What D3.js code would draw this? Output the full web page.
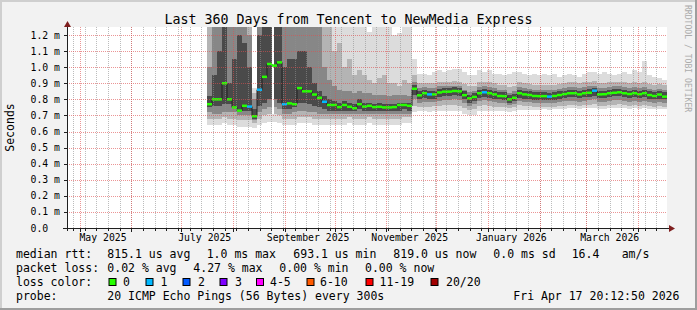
<!DOCTYPE html>
<html>
<head>
<meta charset="utf-8">
<script src="https://cdn.jsdelivr.net/npm/d3@7"></script>
<style>
html, body { margin: 0; padding: 0; background: #f2f2f2; }
svg text { font-family: "DejaVu Sans Mono", monospace; fill: #000; }
</style>
</head>
<body>
<div id="chart"></div>
<script>
// time frame: 360 days, one smoke column every 3 days
const MS_DAY = 864e5;
const startTime = Date.UTC(2025, 3, 23, 9, 0, 0);
const spanDays = 360;
const firstColDay = 84;
const colDays = 3;

// median rtt in ms, one per column
const median = [
  0.77, 0.80, 0.80, 0.90, 0.80, 0.75, 0.73, 0.76, 0.755, 0.695,
  0.86, 0.94, 1.02, 1.01, 1.03, 0.77, 0.775, 0.77, 0.87, 0.85,
  0.85, 0.83, 0.81, 0.785, 0.765, 0.765, 0.752, 0.765, 0.754, 0.745,
  0.77, 0.755, 0.76, 0.752, 0.754, 0.75, 0.75, 0.752, 0.765, 0.765,
  0.76,
  0.866, 0.825, 0.838, 0.831, 0.831, 0.843, 0.848, 0.848, 0.852, 0.85,
  0.826, 0.806, 0.815, 0.838, 0.844, 0.838, 0.831, 0.821, 0.82, 0.80,
  0.81, 0.838, 0.831, 0.827, 0.821, 0.82, 0.82, 0.817, 0.821, 0.827,
  0.833, 0.838, 0.838, 0.831, 0.838, 0.841, 0.854, 0.831, 0.832, 0.838,
  0.841, 0.844, 0.838, 0.833, 0.838, 0.832, 0.838, 0.827, 0.821, 0.83,
  0.817
];

// lost pings (of 20) per column
const loss = [
  0, 0, 0, 0, 0, 0, 0, 0, 1, 0,
  1, 0, 0, 0, 0, 1, 0, 0, 0, 0,
  0, 0, 0, 1, 0, 0, 0, 0, 0, 0,
  0, 0, 0, 0, 0, 0, 0, 0, 0, 0,
  0,
  0, 0, 0, 1, 0, 0, 0, 0, 0, 0,
  0, 0, 0, 0, 1, 0, 0, 0, 0, 0,
  0, 0, 0, 0, 0, 0, 0, 1, 0, 0,
  0, 0, 0, 0, 0, 0, 1, 0, 0, 0,
  0, 0, 0, 0, 0, 0, 0, 0, 0, 0,
  0
];

// smoke: outer band (min/max)
const outerLo = [
  0.64, 0.64, 0.64, 0.65, 0.64, 0.64, 0.63, 0.63, 0.63, 0.62,
  0.64, 0.65, 0.66, 0.66, 0.65, 0.64, 0.64, 0.64, 0.65, 0.65,
  0.65, 0.64, 0.64, 0.64, 0.64, 0.64, 0.64, 0.64, 0.65, 0.64,
  0.64, 0.64, 0.65, 0.64, 0.64, 0.64, 0.64, 0.64, 0.64, 0.65,
  0.65,
  0.72, 0.725, 0.725, 0.72, 0.725, 0.725, 0.73, 0.73, 0.73, 0.725,
  0.71, 0.70, 0.705, 0.73, 0.73, 0.73, 0.73, 0.725, 0.725, 0.72,
  0.725, 0.735, 0.735, 0.735, 0.735, 0.735, 0.74, 0.735, 0.74, 0.74,
  0.74, 0.745, 0.745, 0.74, 0.745, 0.745, 0.745, 0.74, 0.74, 0.745,
  0.745, 0.745, 0.745, 0.74, 0.745, 0.74, 0.745, 0.74, 0.74, 0.74,
  0.74
];
const outerHi = [
  1.3, 1.3, 1.3, 1.3, 1.3, 1.3, 1.3, 1.3, 1.3, 0.87,
  1.3, 1.3, 1.3, 1.3, 1.3, 1.3, 1.3, 1.3, 1.3, 1.3,
  1.3, 1.3, 1.3, 1.3, 1.3, 1.3, 1.3, 1.3, 1.3, 1.3,
  1.3, 1.3, 1.22, 1.3, 1.3, 1.3, 1.3, 1.2, 1.21, 1.3,
  1.3,
  1.05, 0.96, 0.96, 0.95, 0.97, 0.98, 0.97, 0.98, 0.99, 0.99,
  0.97, 0.95, 0.95, 0.98, 0.97, 0.98, 0.96, 0.96, 0.95, 0.96,
  0.97, 0.97, 0.96, 0.95, 0.96, 0.95, 0.96, 0.95, 0.96, 0.94,
  0.95, 0.96, 0.95, 0.94, 0.96, 0.97, 0.97, 0.96, 0.97, 0.96,
  0.95, 0.96, 0.97, 0.96, 0.98, 0.97, 1.04, 0.95, 0.94, 0.93,
  0.92
];
// second band
const band2Lo = [
  0.68, 0.68, 0.68, 0.69, 0.68, 0.68, 0.67, 0.67, 0.67, 0.65,
  0.68, 0.70, 0.71, 0.71, 0.70, 0.68, 0.68, 0.68, 0.69, 0.69,
  0.69, 0.68, 0.68, 0.68, 0.68, 0.68, 0.68, 0.68, 0.69, 0.68,
  0.68, 0.68, 0.69, 0.68, 0.68, 0.68, 0.68, 0.68, 0.68, 0.69,
  0.69,
  0.76, 0.755, 0.755, 0.755, 0.76, 0.76, 0.765, 0.765, 0.765, 0.76,
  0.745, 0.735, 0.74, 0.76, 0.765, 0.76, 0.755, 0.75, 0.75, 0.745,
  0.75, 0.765, 0.76, 0.76, 0.755, 0.755, 0.755, 0.755, 0.755, 0.76,
  0.76, 0.765, 0.765, 0.76, 0.765, 0.765, 0.77, 0.76, 0.76, 0.765,
  0.765, 0.77, 0.765, 0.76, 0.765, 0.76, 0.765, 0.76, 0.755, 0.76,
  0.755
];
const band2Hi = [
  1.3, 1.3, 1.3, 1.3, 1.3, 1.3, 1.3, 1.3, 1.3, 0.84,
  1.3, 1.3, 1.3, 1.3, 1.3, 1.3, 1.3, 1.3, 1.3, 1.3,
  1.3, 1.3, 1.3, 1.3, 1.25, 1.1, 1.15, 1.0, 1.05, 0.95,
  0.98, 0.95, 0.92, 0.90, 0.93, 0.95, 0.90, 0.90, 0.88, 0.92,
  0.90,
  0.95, 0.90, 0.90, 0.90, 0.90, 0.905, 0.91, 0.91, 0.915, 0.91,
  0.895, 0.88, 0.885, 0.905, 0.91, 0.905, 0.90, 0.89, 0.89, 0.875,
  0.885, 0.905, 0.90, 0.895, 0.89, 0.89, 0.89, 0.89, 0.89, 0.895,
  0.90, 0.905, 0.905, 0.90, 0.905, 0.91, 0.915, 0.90, 0.90, 0.905,
  0.91, 0.91, 0.905, 0.90, 0.905, 0.90, 0.905, 0.895, 0.89, 0.895,
  0.89
];
// third band
const band3Lo = [
  0.72, 0.71, 0.71, 0.72, 0.72, 0.72, 0.70, 0.70, 0.70, 0.67,
  0.72, 0.74, 0.75, 0.75, 0.74, 0.71, 0.71, 0.72, 0.73, 0.73,
  0.72, 0.72, 0.71, 0.71, 0.71, 0.71, 0.71, 0.71, 0.71, 0.71,
  0.71, 0.71, 0.71, 0.71, 0.71, 0.71, 0.71, 0.71, 0.71, 0.71,
  0.71,
  0.80, 0.78, 0.785, 0.785, 0.785, 0.79, 0.795, 0.795, 0.80, 0.795,
  0.775, 0.76, 0.77, 0.79, 0.795, 0.79, 0.785, 0.78, 0.78, 0.765,
  0.77, 0.79, 0.785, 0.785, 0.78, 0.78, 0.78, 0.78, 0.78, 0.785,
  0.79, 0.79, 0.79, 0.785, 0.79, 0.795, 0.80, 0.785, 0.785, 0.79,
  0.795, 0.795, 0.79, 0.785, 0.79, 0.785, 0.79, 0.785, 0.78, 0.785,
  0.78
];
const band3Hi = [
  1.0, 1.3, 1.3, 1.3, 1.3, 1.3, 1.3, 1.3, 1.2, 0.80,
  1.3, 1.3, 1.3, 1.3, 1.3, 1.3, 1.3, 1.3, 1.3, 1.3,
  1.3, 1.3, 1.25, 1.0, 0.92, 0.88, 0.86, 0.85, 0.85, 0.84,
  0.85, 0.84, 0.84, 0.83, 0.83, 0.83, 0.82, 0.83, 0.83, 0.83,
  0.82,
  0.91, 0.87, 0.875, 0.87, 0.87, 0.88, 0.885, 0.885, 0.885, 0.88,
  0.86, 0.845, 0.855, 0.875, 0.88, 0.875, 0.87, 0.86, 0.86, 0.84,
  0.85, 0.875, 0.87, 0.865, 0.86, 0.86, 0.86, 0.86, 0.86, 0.865,
  0.87, 0.875, 0.875, 0.87, 0.875, 0.88, 0.885, 0.87, 0.87, 0.875,
  0.88, 0.88, 0.875, 0.87, 0.875, 0.87, 0.875, 0.865, 0.86, 0.865,
  0.86
];
// inner band around the median
const coreLo = [
  0.75, 0.76, 0.76, 0.77, 0.77, 0.75, 0.73, 0.73, 0.73, 0.68,
  0.76, 0.78, 0.80, 0.80, 0.78, 0.74, 0.74, 0.75, 0.78, 0.78,
  0.77, 0.76, 0.75, 0.74, 0.73, 0.73, 0.73, 0.73, 0.73, 0.73,
  0.74, 0.73, 0.73, 0.73, 0.73, 0.73, 0.73, 0.73, 0.73, 0.74,
  0.73,
  0.83, 0.80, 0.81, 0.805, 0.805, 0.815, 0.82, 0.82, 0.825, 0.82,
  0.80, 0.78, 0.79, 0.81, 0.815, 0.81, 0.805, 0.80, 0.795, 0.78,
  0.79, 0.81, 0.805, 0.80, 0.795, 0.795, 0.795, 0.795, 0.795, 0.80,
  0.81, 0.815, 0.815, 0.81, 0.815, 0.815, 0.82, 0.81, 0.81, 0.815,
  0.82, 0.82, 0.815, 0.81, 0.815, 0.81, 0.815, 0.80, 0.80, 0.805,
  0.80
];
const coreHi = [
  0.82, 0.95, 1.10, 1.3, 0.90, 1.05, 1.20, 1.15, 1.0, 0.74,
  1.2, 1.3, 1.3, 1.3, 1.25, 1.0, 1.05, 1.05, 1.10, 1.10,
  1.00, 0.90, 0.85, 0.82, 0.80, 0.79, 0.78, 0.79, 0.78, 0.77,
  0.80, 0.78, 0.78, 0.77, 0.78, 0.77, 0.77, 0.77, 0.78, 0.78,
  0.78,
  0.89, 0.85, 0.86, 0.855, 0.855, 0.865, 0.87, 0.87, 0.875, 0.87,
  0.85, 0.83, 0.84, 0.86, 0.865, 0.86, 0.855, 0.845, 0.845, 0.825,
  0.835, 0.86, 0.855, 0.85, 0.845, 0.845, 0.845, 0.84, 0.845, 0.85,
  0.855, 0.86, 0.86, 0.855, 0.86, 0.865, 0.87, 0.855, 0.855, 0.86,
  0.865, 0.865, 0.86, 0.855, 0.86, 0.855, 0.86, 0.85, 0.845, 0.85,
  0.845
];

// short stretch where the smoke only reached low values
const gapDays = [122.8, 124.4];
const gapTop = 0.71;

const yTicks = [0, 0.1, 0.2, 0.3, 0.4, 0.5, 0.6, 0.7, 0.8, 0.9, 1.0, 1.1, 1.2];
const monthLabelDates = ["2025-05-15", "2025-07-15", "2025-09-15", "2025-11-15", "2026-01-15", "2026-03-15"];

const lossLabels = ["0", "1", "2", "3", "4-5", "6-10", "11-19", "20/20"];
const lossColors = ["#26ff00", "#00b8ff", "#0059ff", "#7e00ff", "#ff00ff", "#ff5a00", "#ff0000", "#a10000"];
const lossBoxX = [108.5, 145.5, 182.5, 219.5, 256, 306.5, 365.5, 430.5];
const lossTextX = [123, 160.5, 198, 235, 270, 320, 379.5, 446];

const rttRow = [["median rtt:", 16], ["815.1 us avg", 107.3], ["1.0 ms max", 206.7], ["693.1 us min", 293.3],
  ["819.0 us now", 393.3], ["0.0 ms sd", 493.3], ["16.4", 571.7], ["am/s", 621.7]];
const lossRow = [["packet loss:", 16], ["0.02 % avg", 107.3], ["4.27 % max", 193.3], ["0.00 % min", 279.3], ["0.00 % now", 365]];
const probeRow = [["probe:", 16], ["20 ICMP Echo Pings (56 Bytes) every 300s", 107.3], ["Fri Apr 17 20:12:50 2026", 513.3]];

const W = 697, H = 310;
const pLeft = 67, pRight = 667, pTop = 27, pBottom = 228;

const svg = d3.select("#chart").append("svg")
    .attr("width", W)
    .attr("height", H);

// background and 3d border
svg.append("rect").attr("width", W).attr("height", H).attr("fill", "#f2f2f2");
svg.append("rect").attr("x", 0).attr("y", 0).attr("width", W).attr("height", 2).attr("fill", "#cfcfcf");
svg.append("rect").attr("x", 0).attr("y", 0).attr("width", 2).attr("height", H).attr("fill", "#cfcfcf");
svg.append("rect").attr("x", 0).attr("y", H - 2).attr("width", W).attr("height", 2).attr("fill", "#9e9e9e");
svg.append("rect").attr("x", W - 2).attr("y", 0).attr("width", 2).attr("height", H).attr("fill", "#9e9e9e");

// canvas
svg.append("rect")
    .attr("x", pLeft).attr("y", pTop)
    .attr("width", pRight - pLeft).attr("height", pBottom - pTop)
    .attr("fill", "#fff");

const t0 = new Date(startTime);
const t1 = new Date(startTime + spanDays * MS_DAY);
const x = d3.scaleUtc().domain([t0, t1]).range([pLeft, pRight]);
const y = d3.scaleLinear().domain([0, 1.25]).range([pBottom, pTop]);

svg.append("clipPath").attr("id", "plot")
    .append("rect")
    .attr("x", pLeft).attr("y", pTop)
    .attr("width", pRight - pLeft).attr("height", pBottom - pTop);

const dayDate = d => new Date(startTime + d * MS_DAY);

const cols = median.map((m, i) => ({
    a: dayDate(firstColDay + i * colDays),
    b: dayDate(firstColDay + (i + 1) * colDays),
    m: m,
    loss: loss[i]
}));

const plot = svg.append("g").attr("clip-path", "url(#plot)");

// smoke, outer band first
const bands = [
    [outerLo, outerHi, "#dcdcdc"],
    [band2Lo, band2Hi, "#b4b4b4"],
    [band3Lo, band3Hi, "#878787"],
    [coreLo, coreHi, "#4a4a4a"]
];
bands.forEach(([lo, hi, color]) => {
    plot.append("g")
        .selectAll("rect")
        .data(cols)
        .join("rect")
        .attr("x", d => x(d.a))
        .attr("width", d => x(d.b) - x(d.a))
        .attr("y", (d, i) => y(hi[i]))
        .attr("height", (d, i) => y(lo[i]) - y(hi[i]))
        .attr("fill", color)
        .attr("shape-rendering", "crispEdges");
});

plot.append("rect")
    .attr("x", x(dayDate(gapDays[0])))
    .attr("width", x(dayDate(gapDays[1])) - x(dayDate(gapDays[0])))
    .attr("y", y(1.3))
    .attr("height", y(gapTop) - y(1.3))
    .attr("fill", "#fff")
    .attr("shape-rendering", "crispEdges");

// grid
const grid = svg.append("g").attr("shape-rendering", "crispEdges");
const minorColor = "rgba(143,143,143,0.6)";
const majorColor = "rgba(222,79,79,0.6)";

grid.selectAll(".vmin")
    .data(d3.utcSunday.range(t0, t1))
    .join("line")
    .attr("x1", d => Math.round(x(d)) + 0.5)
    .attr("x2", d => Math.round(x(d)) + 0.5)
    .attr("y1", pTop).attr("y2", pBottom)
    .attr("stroke", minorColor)
    .attr("stroke-dasharray", "1,1");

grid.selectAll(".vmaj")
    .data(d3.utcMonth.range(t0, t1))
    .join("line")
    .attr("x1", d => Math.round(x(d)) + 0.5)
    .attr("x2", d => Math.round(x(d)) + 0.5)
    .attr("y1", pTop).attr("y2", pBottom)
    .attr("stroke", majorColor)
    .attr("stroke-dasharray", "1,1");

grid.selectAll(".hmaj")
    .data(yTicks.slice(1))
    .join("line")
    .attr("x1", pLeft).attr("x2", pRight)
    .attr("y1", d => Math.round(y(d)) + 0.5)
    .attr("y2", d => Math.round(y(d)) + 0.5)
    .attr("stroke", majorColor)
    .attr("stroke-dasharray", "1,1");

// median: dark step line, then loss-coloured segments
const stepLine = d3.line()
    .x(d => d[0])
    .y(d => d[1])
    .curve(d3.curveStepAfter);
const medPts = cols.map(d => [x(d.a), y(d.m)]);
medPts.push([x(cols[cols.length - 1].b), y(cols[cols.length - 1].m)]);
plot.append("path")
    .attr("d", stepLine(medPts))
    .attr("fill", "none")
    .attr("stroke", "#202020")
    .attr("stroke-width", 1);

plot.append("g")
    .selectAll("line")
    .data(cols)
    .join("line")
    .attr("x1", d => x(d.a))
    .attr("x2", d => x(d.b))
    .attr("y1", d => y(d.m))
    .attr("y2", d => y(d.m))
    .attr("stroke", d => lossColors[d.loss])
    .attr("stroke-width", 2.5);

// axes
const axis = svg.append("g").attr("shape-rendering", "crispEdges");
axis.append("line")
    .attr("x1", pLeft + 0.5).attr("x2", pLeft + 0.5)
    .attr("y1", pBottom + 3).attr("y2", pTop - 2)
    .attr("stroke", "#1f1f1f");
axis.append("line")
    .attr("x1", pLeft - 4).attr("x2", pRight + 3)
    .attr("y1", pBottom + 0.5).attr("y2", pBottom + 0.5)
    .attr("stroke", "#1f1f1f");

axis.selectAll(".ytick")
    .data(yTicks)
    .join("line")
    .attr("x1", pLeft - 3).attr("x2", pLeft)
    .attr("y1", d => Math.round(y(d)) + 0.5)
    .attr("y2", d => Math.round(y(d)) + 0.5)
    .attr("stroke", "#1f1f1f");

axis.selectAll(".xmin")
    .data(d3.utcSunday.range(t0, t1))
    .join("line")
    .attr("x1", d => Math.round(x(d)) + 0.5)
    .attr("x2", d => Math.round(x(d)) + 0.5)
    .attr("y1", pBottom + 1).attr("y2", pBottom + 3)
    .attr("stroke", "#1f1f1f");

axis.selectAll(".xmaj")
    .data(d3.utcMonth.range(t0, t1))
    .join("line")
    .attr("x1", d => Math.round(x(d)) + 0.5)
    .attr("x2", d => Math.round(x(d)) + 0.5)
    .attr("y1", pBottom + 1).attr("y2", pBottom + 4)
    .attr("stroke", "#1f1f1f");

// arrows
svg.append("path")
    .attr("d", `M${pLeft - 3},${pTop} L${pLeft + 4},${pTop} L${pLeft + 0.5},${pTop - 6} Z`)
    .attr("fill", "#7f1f1f");
svg.append("path")
    .attr("d", `M${pRight + 2},${pBottom - 3} L${pRight + 2},${pBottom + 4} L${pRight + 8},${pBottom + 0.5} Z`)
    .attr("fill", "#7f1f1f");

// y tick labels
svg.append("g")
    .selectAll("text")
    .data(yTicks)
    .join("text")
    .attr("x", 30.5)
    .attr("y", d => y(d) + 3.5)
    .attr("font-size", "9.8px")
    .text(d => d === 0 ? "0.0" : d3.format(".1f")(d) + " m");

// month labels
const parseDay = d3.utcParse("%Y-%m-%d");
svg.append("g")
    .selectAll("text")
    .data(monthLabelDates.map(parseDay))
    .join("text")
    .attr("x", d => x(d))
    .attr("y", 240.5)
    .attr("text-anchor", "middle")
    .attr("font-size", "9.8px")
    .text(d3.utcFormat("%B %Y"));

// title
svg.append("text")
    .attr("x", 348.5)
    .attr("y", 24)
    .attr("text-anchor", "middle")
    .attr("font-size", "13.3px")
    .text("Last 360 Days from Tencent to NewMedia Express");

svg.append("text")
    .attr("transform", "translate(14," + ((pTop + pBottom) / 2) + ") rotate(-90)")
    .attr("text-anchor", "middle")
    .attr("font-size", "11.5px")
    .text("Seconds");

svg.append("text")
    .attr("transform", "translate(685,5) rotate(90)")
    .attr("font-size", "8.1px")
    .style("fill", "#ababab")
    .text("RRDTOOL / TOBI OETIKER");

// legend
const legend = svg.append("g").attr("font-size", "11.5px");
const rowText = (row, yy) => legend.append("g")
    .selectAll("text")
    .data(row)
    .join("text")
    .attr("x", d => d[1])
    .attr("y", yy)
    .style("white-space", "pre")
    .text(d => d[0]);

rowText(rttRow, 257.5);
rowText(lossRow, 271.5);
rowText([["loss color:", 16]], 285.5);
rowText(probeRow, 299.5);

legend.append("g")
    .selectAll("rect")
    .data(lossColors)
    .join("rect")
    .attr("x", (d, i) => lossBoxX[i] + 0.5)
    .attr("y", 278.5)
    .attr("width", 7)
    .attr("height", 7)
    .attr("fill", d => d)
    .attr("stroke", "#000")
    .attr("stroke-width", 1);

legend.append("g")
    .selectAll("text")
    .data(lossLabels)
    .join("text")
    .attr("x", (d, i) => lossTextX[i])
    .attr("y", 285.5)
    .text(d => d);
</script>
</body>
</html>
